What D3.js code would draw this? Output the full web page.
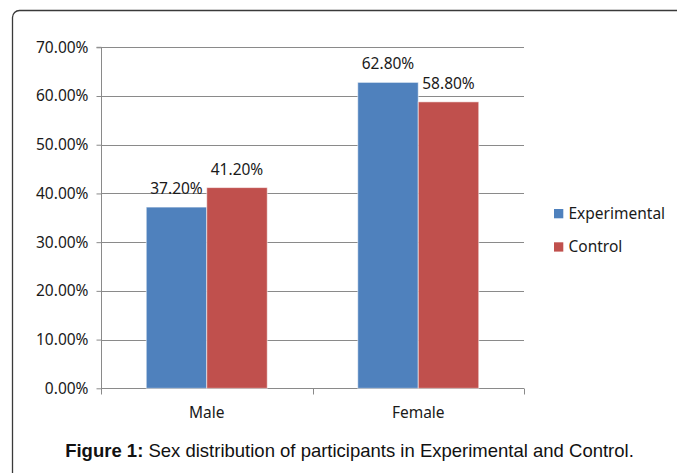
<!DOCTYPE html>
<html><head><meta charset="utf-8">
<script src="https://cdn.jsdelivr.net/npm/d3@7"></script>
<style>
html,body{margin:0;padding:0;background:#fff;}
svg{display:block;}
</style></head>
<body>
<svg id="chart" width="677" height="473"></svg>
<script>
const categories = ["Male", "Female"];
const seriesNames = ["Experimental", "Control"];
const experimental = [37.2, 62.8];
const control = [41.2, 58.8];
const yTicks = [0, 10, 20, 30, 40, 50, 60, 70];
const colors = ["#4F81BD", "#C0504D"];
const caption = ["Figure 1:", " Sex distribution of participants in Experimental and Control."];

const series = [experimental, control];
const svg = d3.select("#chart");
const font = "'Noto Sans', sans-serif";

// outer rounded frame (extends beyond viewport right/bottom)
svg.append("rect").attr("x", 12.5).attr("y", 10.5).attr("width", 700).attr("height", 500)
  .attr("rx", 7).attr("fill", "none").attr("stroke", "#3a3a3a").attr("stroke-width", 1.3);

const pLeft = 101, pRight = 524, pTop = 47.3, pBottom = 388.3;
const y = d3.scaleLinear().domain([0, 70]).range([pBottom, pTop]);
const x0 = d3.scaleBand().domain(categories).range([pLeft, pRight]).paddingInner(0).paddingOuter(0);
const inner = 121 / 211.5;
const x1 = d3.scaleBand().domain(seriesNames).range([0, x0.bandwidth() * inner]);
const groupOffset = x0.bandwidth() * (1 - inner) / 2;

// gridlines
svg.append("g").selectAll("line").data(yTicks.filter(d => d > 0)).join("line")
  .attr("x1", pLeft).attr("x2", pRight)
  .attr("y1", d => Math.round(y(d)) + 0.5).attr("y2", d => Math.round(y(d)) + 0.5)
  .attr("stroke", "#8a8a8a").attr("stroke-width", 1);

// y axis
const yAxis = d3.axisLeft(y).tickValues(yTicks).tickSize(5).tickPadding(8)
  .tickFormat(d => d.toFixed(2) + "%");
const gy = svg.append("g").attr("transform", `translate(${pLeft + 0.5},0)`).call(yAxis);
gy.select(".domain").attr("stroke", "#8a8a8a").attr("d", `M-5,${pTop}H0V${pBottom}`);
gy.selectAll(".tick line").attr("stroke", "#8a8a8a");
gy.selectAll(".tick text").attr("font-family", font).attr("font-size", "15.5px").attr("fill", "#1a1a1a");

// x axis
const gx = svg.append("g").attr("transform", `translate(0,${Math.round(pBottom) + 0.5})`);
gx.append("line").attr("x1", pLeft).attr("x2", pRight).attr("stroke", "#8a8a8a");
const boundaries = [pLeft, ...categories.map(c => x0(c) + x0.bandwidth())];
gx.selectAll("line.tk").data(boundaries).join("line").attr("class", "tk")
  .attr("x1", d => Math.round(d) + 0.5).attr("x2", d => Math.round(d) + 0.5)
  .attr("y1", 0).attr("y2", 6).attr("stroke", "#8a8a8a");
gx.selectAll("text").data(categories).join("text")
  .attr("x", d => x0(d) + x0.bandwidth() / 2).attr("y", 29)
  .attr("text-anchor", "middle").attr("font-family", font).attr("font-size", "15.5px")
  .attr("fill", "#1a1a1a").text(d => d);

// bars
const groups = svg.append("g").selectAll("g").data(categories).join("g")
  .attr("transform", d => `translate(${x0(d) + groupOffset},0)`);
groups.selectAll("rect").data((c, i) => seriesNames.map((s, j) => ({s, v: series[j][i], j})))
  .join("rect")
  .attr("x", d => x1(d.s)).attr("width", x1.bandwidth())
  .attr("y", d => y(d.v)).attr("height", d => y(0) - y(d.v))
  .attr("fill", d => colors[d.j]).attr("stroke", "rgba(255,255,255,0.55)").attr("stroke-width", 1);
groups.selectAll("text").data((c, i) => seriesNames.map((s, j) => ({s, v: series[j][i], j})))
  .join("text")
  .attr("x", d => x1(d.s) + x1.bandwidth() / 2).attr("y", d => y(d.v) - 13)
  .attr("text-anchor", "middle").attr("font-family", font).attr("font-size", "15.5px")
  .attr("fill", "#1a1a1a").text(d => d.v.toFixed(2) + "%");

// legend
const lg = svg.append("g").attr("transform", "translate(554,209)");
const li = lg.selectAll("g").data(seriesNames).join("g").attr("transform", (d, i) => `translate(0,${i * 33.3})`);
li.append("rect").attr("width", 9.3).attr("height", 9.3).attr("fill", (d, i) => colors[i]);
li.append("text").attr("x", 14.5).attr("y", 10).attr("font-family", font).attr("font-size", "15.5px")
  .attr("fill", "#1a1a1a").text(d => d);

// caption
const cap = svg.append("text").attr("x", 349.5).attr("y", 457.3).attr("text-anchor", "middle")
  .attr("font-family", "'Liberation Sans', Arial, sans-serif").attr("font-size", "18.5px").attr("fill", "#111");
cap.append("tspan").attr("font-weight", "bold").text(caption[0]);
cap.append("tspan").text(caption[1]);
</script>
</body></html>
